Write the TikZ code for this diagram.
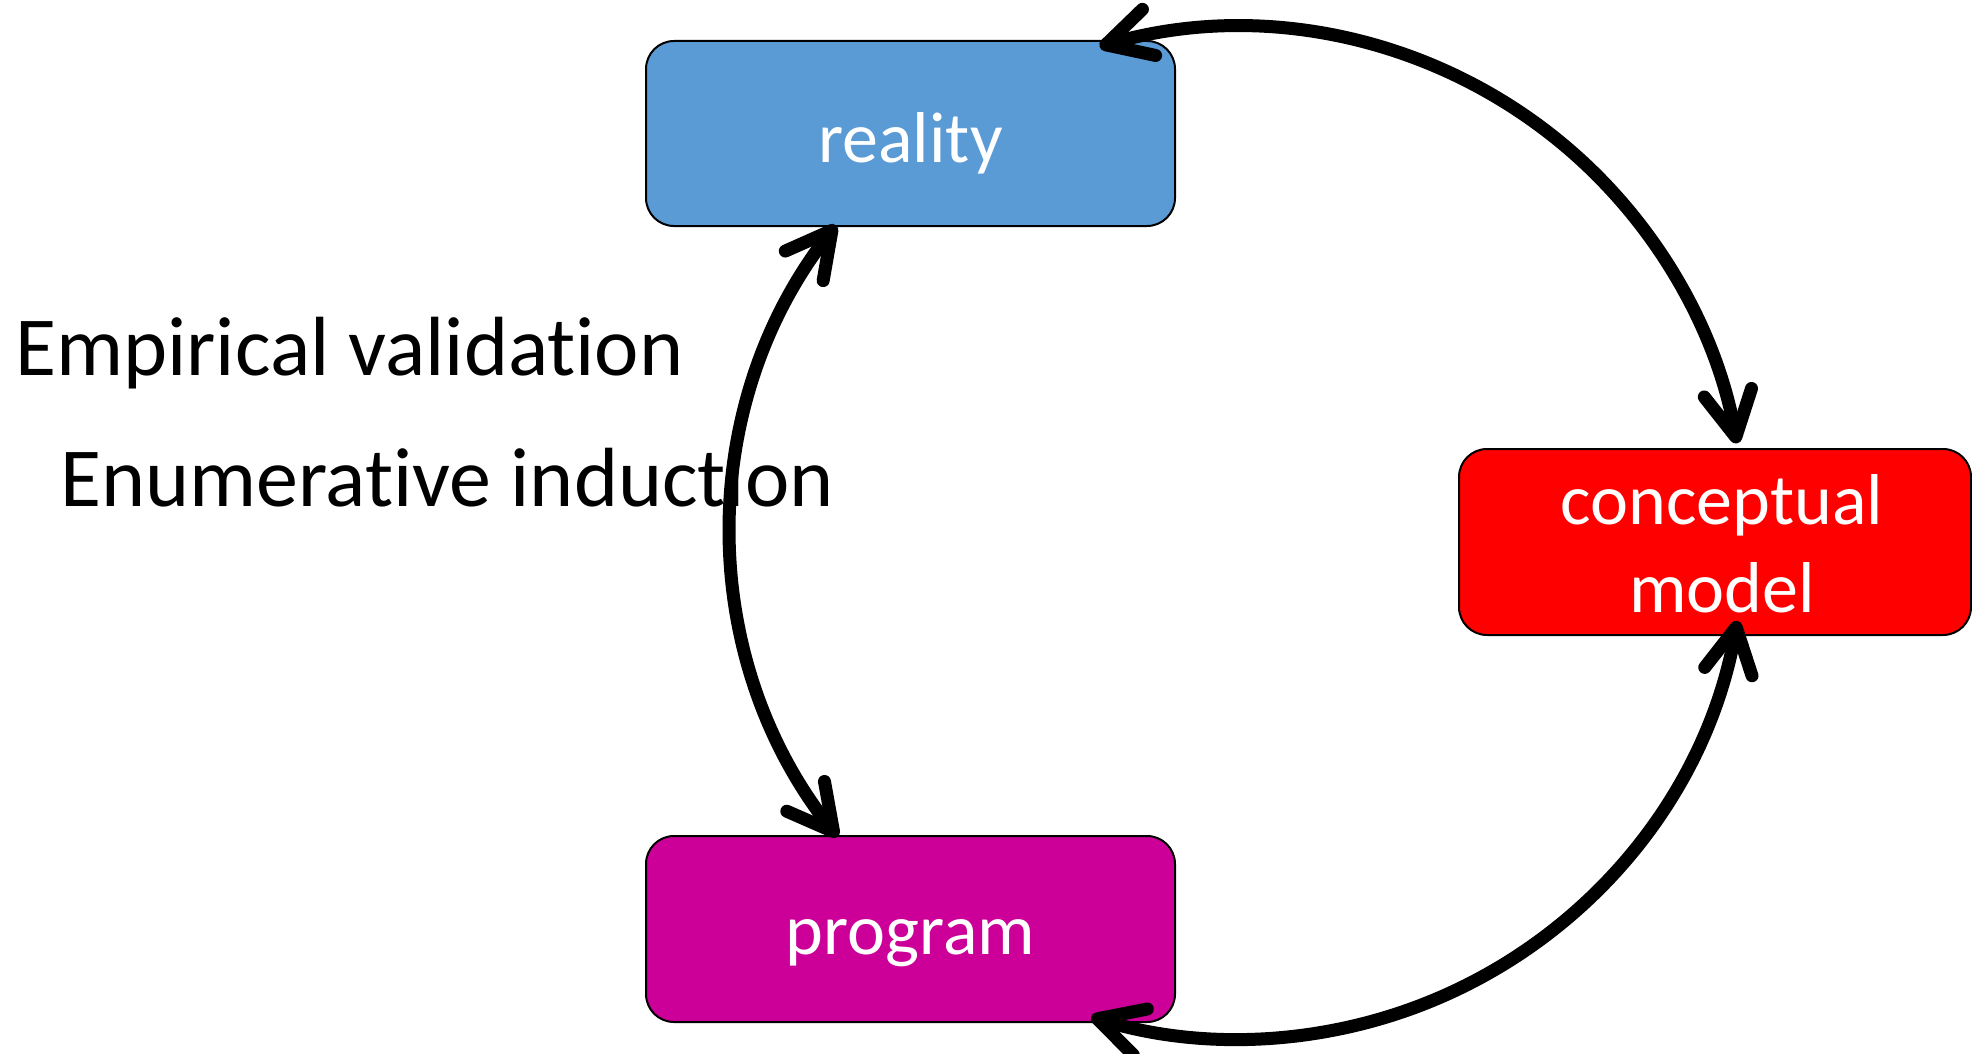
\documentclass[tikz,border=0pt]{standalone}
\usepackage{fontspec}
\setmainfont{Carlito}[Ligatures={NoCommon,NoRequired,NoContextual}]
\usetikzlibrary{arrows.meta}
\tikzset{
  box/.style={draw=black, line width=2pt, rounded corners=28pt, inner sep=0pt,
    text=white, align=center, font=\fontsize{72}{88}\selectfont},
  boxtext/.style={inner sep=0pt, text=white, align=center, font=\fontsize{72}{88}\selectfont},
  lbl/.style={inner sep=0pt, anchor=base west, font=\fontsize{84}{100}\selectfont},
  conn/.style={line width=13pt, line cap=round,
    {Straight Barb[length=45pt, width=48pt, line cap=round, line join=round]}-{Straight Barb[length=45pt, width=48pt, line cap=round, line join=round]}}
}
\definecolor{realblue}{HTML}{5B9BD5}
\definecolor{cmred}{HTML}{FF0000}
\definecolor{progmag}{HTML}{CC0099}
\begin{document}
\begin{tikzpicture}[x=1pt,y=1pt]
\useasboundingbox (0,0) rectangle (1972,-1054);
\node[box, fill=realblue, minimum width=529pt, minimum height=185pt] (reality) at (910.5,-133.5) {};
\node[boxtext] (realityt) at (910.5,-143) {reality};
\node[box, fill=cmred, minimum width=512pt, minimum height=186pt] (cm) at (1715,-542) {};
\node[boxtext] (cmt) at (1722,-544) {conceptual\\model};
\node[box, fill=progmag, minimum width=529pt, minimum height=186pt] (program) at (910.5,-929) {};
\node[boxtext] (programt) at (910.5,-943) {program};
\node[lbl] (ev) at (15,-375) {Empirical validation};
\node[lbl] (ei) at (60,-506) {Enumerative induction};
\coordinate (C) at (1239,-533);
\coordinate (L) at (1226,-530);
\coordinate (rtip) at ([shift={(106:506)}]C);
\coordinate (cmbot) at ([shift={(-10:506)}]C);
\coordinate (rbot) at ([shift={(142:495)}]L);
\draw[conn] (rtip) arc[start angle=106, end angle=10.2, radius=506];
\draw[conn] (cmbot) arc[start angle=-10, end angle=-107, radius=506];
\draw[conn] (rbot) arc[start angle=142, end angle=218.3, radius=495];
\end{tikzpicture}
\end{document}
